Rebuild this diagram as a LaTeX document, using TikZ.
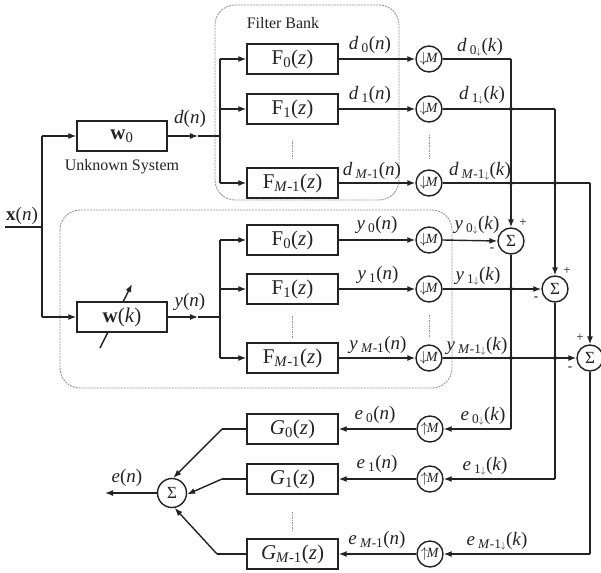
\documentclass[tikz,border=0pt]{standalone}
\usepackage{fontspec}
\setmainfont{Liberation Serif}
\usetikzlibrary{arrows.meta}
\definecolor{ink}{RGB}{35,35,35}
\definecolor{dashc}{RGB}{150,150,150}
\newcommand{\dn}{$\scriptstyle\downarrow$}
\newcommand{\Mm}{\textit{M}-1}
\newcommand{\sg}[3]{\textit{#1}\,\textsubscript{#2}(\textit{#3})}
\begin{document}
\begin{tikzpicture}[x=1pt,y=-1pt,
  blk/.style={draw=ink, fill=white, line width=1.4pt, minimum width=91pt, minimum height=30pt, inner sep=0pt, text=ink, font=\fontsize{21}{21}\selectfont},
  wbox/.style={blk, minimum width=90pt},
  circ/.style={draw=ink, fill=white, circle, line width=1.4pt, minimum size=26pt, inner sep=0pt, text=ink, font=\fontsize{14}{14}\selectfont},
  sumc/.style={circ, font=\fontsize{17}{17}\selectfont},
  lbl/.style={font=\fontsize{19}{19}\selectfont, inner sep=0pt, text=ink},
  small/.style={font=\fontsize{16}{16}\selectfont, inner sep=0pt, text=ink},
  sign/.style={font=\fontsize{13}{13}\selectfont, inner sep=0pt, text=ink},
  wire/.style={draw=ink, line width=1.4pt},
  arr/.style={wire, -{Latex[length=8pt,width=6pt]}},
  dashbox/.style={draw=dashc, line width=0.9pt, dash pattern=on 2pt off 1pt, rounded corners=20pt},
  dotline/.style={draw=dashc, line width=0.9pt, dash pattern=on 1.5pt off 1pt},
  xdot/.style={fill=ink, circle, inner sep=0pt, minimum size=4pt}
]
\path[fill=white, use as bounding box] (0,0) rectangle (601,572);

% dashed group boxes
\draw[dashbox] (215,5) rectangle (399,200);
\draw[dashbox] (60,210) rectangle (452,388);
\node[small] (fb) at (283,23) {Filter Bank};

% input
\node[lbl] (xl) at (22,216) {\textbf{x}(\textit{n})};
\coordinate (xin) at (5,227);
\coordinate (tr) at (42,227);
\coordinate (tt) at (42,136);
\coordinate (tb) at (42,317);
\draw[wire] (xin) -- (tr);
\draw[wire] (tt) -- (tb);

% adaptive arrow (passes behind the box)
\coordinate (ada) at (100,348);
\coordinate (adb) at (132,284);
\draw[arr] (ada) -- (adb);

% unknown system and adaptive filter
\node[wbox] (w0) at (122,136) {\textbf{w}\textsubscript{0}};
\node[small] (uk) at (122,167) {Unknown System};
\node[wbox] (wk) at (122,317) {\textbf{w}(\textit{k})};
\draw[arr] (tt) -- (w0.west);
\draw[arr] (tb) -- (wk.west);

% d(n) and y(n)
\coordinate (dm) at (198,136);
\coordinate (dj) at (220,136);
\draw[arr] (w0.east) -- (dm);
\draw[wire] (dm) -- (dj);
\node[lbl] (dl) at (190,119) {\textit{d}(\textit{n})};
\coordinate (ym) at (198,317);
\coordinate (yj) at (220,317);
\draw[arr] (wk.east) -- (ym);
\draw[wire] (ym) -- (yj);
\node[lbl] (yl) at (190,302) {\textit{y}(\textit{n})};

% upper filter bank
\coordinate (ua) at (220,59);
\coordinate (ub) at (220,109);
\coordinate (uc) at (220,183);
\draw[wire] (ua) -- (uc);
\node[blk] (F0) at (292.5,59) {F\textsubscript{0}(\textit{z})};
\node[blk] (F1) at (292.5,109) {F\textsubscript{1}(\textit{z})};
\node[blk] (F2) at (292.5,183) {F\textsubscript{\Mm}(\textit{z})};
\draw[arr] (ua) -- (F0.west);
\draw[arr] (ub) -- (F1.west);
\draw[arr] (uc) -- (F2.west);
\draw[dotline] (292,140) -- (292,158);

% lower filter bank
\coordinate (la) at (220,240);
\coordinate (lb) at (220,289);
\coordinate (lc) at (220,358);
\draw[wire] (la) -- (lc);
\node[blk] (H0) at (292.5,240) {F\textsubscript{0}(\textit{z})};
\node[blk] (H1) at (292.5,289) {F\textsubscript{1}(\textit{z})};
\node[blk] (H2) at (292.5,358) {F\textsubscript{\Mm}(\textit{z})};
\draw[arr] (la) -- (H0.west);
\draw[arr] (lb) -- (H1.west);
\draw[arr] (lc) -- (H2.west);
\draw[dotline] (292,316) -- (292,338);

% downsamplers
\node[circ] (D0) at (429,59) {$\downarrow$\kern-1pt\textit{M}};
\node[circ] (D1) at (429,109) {$\downarrow$\kern-1pt\textit{M}};
\node[circ] (D2) at (429,183) {$\downarrow$\kern-1pt\textit{M}};
\node[circ] (E0) at (429,240) {$\downarrow$\kern-1pt\textit{M}};
\node[circ] (E1) at (429,289) {$\downarrow$\kern-1pt\textit{M}};
\node[circ] (E2) at (429,358) {$\downarrow$\kern-1pt\textit{M}};
\draw[dotline] (429,135) -- (429,160);
\draw[dotline] (429,315) -- (429,337);
\draw[arr] (F0.east) -- (D0.west);
\draw[arr] (F1.east) -- (D1.west);
\draw[arr] (F2.east) -- (D2.west);
\draw[arr] (H0.east) -- (E0.west);
\draw[arr] (H1.east) -- (E1.west);
\draw[arr] (H2.east) -- (E2.west);
\node[lbl] at (370,45) {\sg{d}{0}{n}};
\node[lbl] at (370,95) {\sg{d}{1}{n}};
\node[lbl] at (372,171) {\sg{d}{\Mm}{n}};
\node[lbl] at (377,225) {\sg{y}{0}{n}};
\node[lbl] at (378,275) {\sg{y}{1}{n}};
\node[lbl] at (378,345) {\sg{y}{\Mm}{n}};

% summing junctions
\node[sumc] (S0) at (511,241) {Σ};
\node[sumc] (S1) at (555,289) {Σ};
\node[sumc] (S2) at (590,358) {Σ};
\coordinate (c0) at (511,59);
\coordinate (c1) at (555,109);
\coordinate (c2) at (590,183);
\draw[wire] (D0.east) -- (c0);
\draw[arr] (c0) -- (S0.north);
\draw[wire] (D1.east) -- (c1);
\draw[arr] (c1) -- (S1.north);
\draw[wire] (D2.east) -- (c2);
\draw[arr] (c2) -- (S2.north);
\draw[arr] (E0.east) -- (S0.west);
\draw[arr] (E1.east) -- (S1.west);
\draw[arr] (E2.east) -- (S2.west);
\node[xdot] at (511,109) {};
\node[xdot] at (511,183) {};
\node[xdot] at (555,183) {};
\node[xdot] at (511,289) {};
\node[xdot] at (511,358) {};
\node[xdot] at (555,358) {};
\node[lbl] at (480,47) {\sg{d}{0\dn}{k}};
\node[lbl] at (482,95) {\sg{d}{1\dn}{k}};
\node[lbl] at (480,171) {\sg{d}{\Mm\dn}{k}};
\node[lbl] at (477,225) {\sg{y}{0\dn}{k}};
\node[lbl] at (478,276) {\sg{y}{1\dn}{k}};
\node[lbl] at (477,346) {\sg{y}{\Mm\dn}{k}};
\node[sign] at (523,223) {+};
\node[sign] at (492,250) {\textbf{-}};
\node[sign] at (567,271) {+};
\node[sign] at (536,299) {\textbf{-}};
\node[sign] at (580,338) {+};
\node[sign] at (570,369) {\textbf{-}};

% error feedback
\node[circ] (U0) at (430,429) {$\uparrow$\kern-1pt\textit{M}};
\node[circ] (U1) at (430,479) {$\uparrow$\kern-1pt\textit{M}};
\node[circ] (U2) at (430,554) {$\uparrow$\kern-1pt\textit{M}};
\coordinate (r0) at (511,429);
\coordinate (r1) at (555,479);
\coordinate (r2) at (590,554);
\draw[wire] (S0.south) -- (r0);
\draw[arr] (r0) -- (U0.east);
\draw[wire] (S1.south) -- (r1);
\draw[arr] (r1) -- (U1.east);
\draw[wire] (S2.south) -- (r2);
\draw[arr] (r2) -- (U2.east);
\node[lbl] at (483,416) {\sg{e}{0\dn}{k}};
\node[lbl] at (485,466) {\sg{e}{1\dn}{k}};
\node[lbl] at (497,541) {\sg{e}{\Mm\dn}{k}};

\node[blk] (G0) at (292.5,429) {\textit{G}\textsubscript{0}(\textit{z})};
\node[blk] (G1) at (292.5,479) {\textit{G}\textsubscript{1}(\textit{z})};
\node[blk] (G2) at (292.5,554) {\textit{G}\textsubscript{\Mm}(\textit{z})};
\draw[dotline] (292,512) -- (292,532);
\draw[arr] (U0.west) -- (G0.east);
\draw[arr] (U1.west) -- (G1.east);
\draw[arr] (U2.west) -- (G2.east);
\node[lbl] at (375,415) {\sg{e}{0}{n}};
\node[lbl] at (377,464) {\sg{e}{1}{n}};
\node[lbl] at (377,540) {\sg{e}{\Mm}{n}};

% output summation
\node[sumc, minimum size=29pt] (SE) at (172,493) {Σ};
\coordinate (g0) at (222,429);
\coordinate (g1) at (222,479);
\coordinate (g2) at (217,554);
\draw[wire] (G0.west) -- (g0);
\draw[arr] (g0) -- (SE.85);
\draw[wire] (G1.west) -- (g1);
\draw[arr] (g1) -- (SE.-5);
\draw[wire] (G2.west) -- (g2);
\draw[arr] (g2) -- (SE.-80);
\coordinate (eo) at (105,493);
\draw[arr] (SE.west) -- (eo);
\node[lbl] (el) at (127,478) {\textit{e}(\textit{n})};
\end{tikzpicture}
\end{document}
